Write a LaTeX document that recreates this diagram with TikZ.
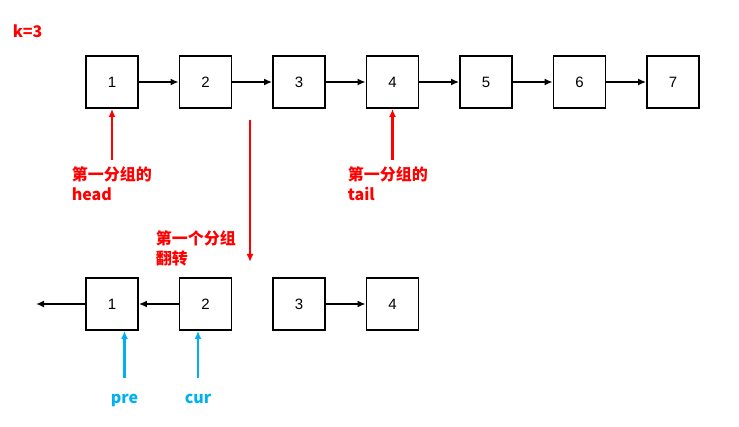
\documentclass[tikz,border=0pt]{standalone}
\usepackage{xcolor}
\usepackage{fontspec}
\setmainfont{Liberation Sans}
\newfontfamily\cjk{Noto Sans CJK SC}
\usepackage{tikz}
\usetikzlibrary{arrows.meta,positioning}

\definecolor{notered}{RGB}{255,0,0}
\definecolor{noteblue}{RGB}{0,176,240}

\begin{document}
\begin{tikzpicture}[x=1pt, y=-1pt, ->, >={Latex[length=8pt,width=7pt]}, node distance=93.5pt, line width=1.6pt, inner sep=0pt]
\useasboundingbox (0,0) rectangle (739,427);
\tikzstyle{box}=[draw, minimum size=52pt, font=\fontsize{15}{15}\selectfont, line width=1.8pt]
\tikzstyle{note}=[text=notered, align=left, font=\cjk\bfseries\fontsize{16}{20}\selectfont]
\tikzstyle{ptr}=[text=noteblue, font=\cjk\bfseries\fontsize{16}{20}\selectfont]
\tikzstyle{redarrow}=[draw=notered, line width=2.2pt]
\tikzstyle{bluearrow}=[draw=noteblue, line width=2.2pt]

\node[note, anchor=base west] (k) at (12,38) {k=3};

\node[box] (a1) at (112,82) {1};
\node[box] (a2) [right of=a1] {2};
\node[box] (a3) [right of=a2] {3};
\node[box] (a4) [right of=a3] {4};
\node[box] (a5) [right of=a4] {5};
\node[box] (a6) [right of=a5] {6};
\node[box] (a7) [right of=a6] {7};

\node[box] (b1) at (112,304) {1};
\node[box] (b2) [right of=b1] {2};
\node[box] (b3) [right of=b2] {3};
\node[box] (b4) [right of=b3] {4};
\coordinate (nil) at (36,304);

\path
(a1) edge (a2)
(a2) edge (a3)
(a3) edge (a4)
(a4) edge (a5)
(a5) edge (a6)
(a6) edge (a7)

(b2) edge (b1)
(b1) edge (nil)
(b3) edge (b4);

% group labels
\node[note, anchor=base west] (head) at (71,201) {第一分组的\\head};
\node[note, anchor=base west] (tail) at (347,201) {第一分组的\\tail};
\node[note, anchor=base west] (flip) at (155,265) {第一个分组\\翻转};
\draw[redarrow] ([yshift=41pt]head.base -| a1.south) -- (a1.south);
\draw[redarrow] ([yshift=41pt]tail.base -| a4.south) -- (a4.south);

\coordinate (down1) at (250,120);
\coordinate (down2) at (250,262);
\draw[redarrow] (down1) -- (down2);

% pointers
\node[ptr, anchor=base] (pre) at (124.5,404) {pre};
\node[ptr, anchor=base] (cur) at (198,404) {cur};
\draw[bluearrow] ([yshift=26pt]pre.base) -- (pre.base |- b1.south);
\draw[bluearrow] ([yshift=26pt]cur.base) -- (cur.base |- b2.south);
\end{tikzpicture}
\end{document}
